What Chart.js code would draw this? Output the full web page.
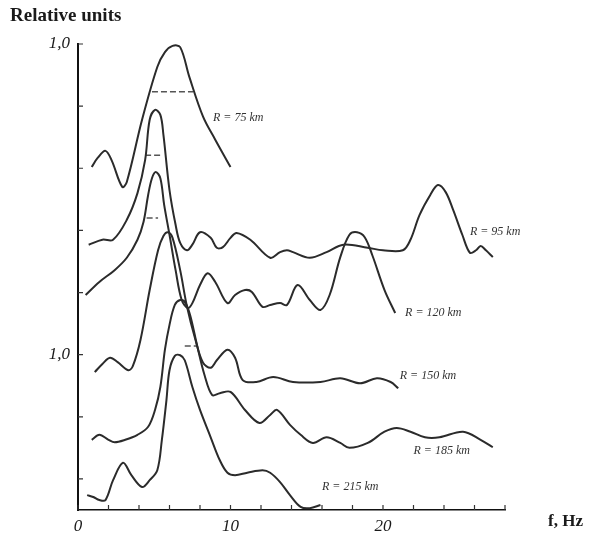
<html>
<head>
    <script src="https://cdn.jsdelivr.net/npm/chart.js@4.4.0/dist/chart.umd.min.js"></script>
    <title>Relative spectra</title>
    <style>
        body { margin: 0; background: #fff; }
        #wrap { width: 592px; height: 541px; }
    </style>
</head>
<body>
<div id="wrap"><canvas id="spectra"></canvas></div>

<script>
    // spectra: [f (Hz), offset relative amplitude]
    var r75 = [[0.9,5.52],[1.3,5.67],[1.8,5.78],[2.2,5.63],[2.9,5.2],[3.2,5.28],[4.2,6.28],[5.2,7.13],
        [5.7,7.37],[6.2,7.47],[6.7,7.45],[7.3,6.97],[8.2,6.33],[9.0,5.96],[10.0,5.52]];
    var r95 = [[0.7,4.27],[1.6,4.35],[2.3,4.35],[3.2,4.67],[3.9,5.1],[4.4,5.63],[4.7,6.28],[5.05,6.44],
        [5.4,6.36],[5.6,6.04],[6.0,5.15],[6.4,4.59],[6.7,4.3],[7.15,4.18],[7.5,4.27],[8.0,4.47],
        [8.7,4.38],[9.1,4.22],[9.5,4.23],[10.0,4.38],[10.4,4.46],[11.3,4.35],[12.6,4.06],[13.25,4.15],
        [13.7,4.18],[14.1,4.15],[15.2,4.06],[16.3,4.15],[17.4,4.27],[19.0,4.22],[20.0,4.18],[21.3,4.18],
        [21.8,4.35],[22.4,4.75],[23.1,5.07],[23.6,5.23],[24.1,5.12],[24.6,4.83],[25.2,4.43],[25.7,4.14],
        [26.1,4.18],[26.4,4.25],[26.75,4.18],[27.2,4.07]];
    var r120 = [[0.5,3.46],[1.4,3.67],[2.4,3.86],[3.2,4.06],[3.9,4.35],[4.3,4.64],[4.6,5.07],[4.85,5.34],
        [5.1,5.44],[5.4,5.34],[5.65,4.91],[6.0,4.43],[6.4,3.86],[6.8,3.38],[7.2,3.25],[7.5,3.33],
        [8.0,3.62],[8.5,3.81],[9.0,3.67],[9.8,3.33],[10.3,3.46],[10.95,3.54],[11.4,3.51],[12.1,3.27],
        [12.6,3.3],[13.25,3.33],[13.7,3.3],[14.4,3.62],[15.2,3.38],[15.9,3.22],[16.5,3.46],[17.2,4.07],
        [17.8,4.43],[18.3,4.47],[18.8,4.39],[19.3,4.1],[20.1,3.54],[20.8,3.17]];
    var r150 = [[1.1,2.22],[1.6,2.35],[2.1,2.45],[2.6,2.38],[3.3,2.25],[3.6,2.32],[4.1,2.74],[4.7,3.54],
        [5.25,4.18],[5.6,4.41],[5.9,4.47],[6.2,4.38],[6.7,3.86],[7.15,3.27],[7.7,2.74],[8.2,2.37],
        [8.7,2.29],[9.1,2.41],[9.8,2.58],[10.3,2.45],[10.8,2.09],[11.7,2.06],[12.8,2.14],[14.1,2.06],
        [15.9,2.06],[17.2,2.12],[18.5,2.04],[19.6,2.12],[20.5,2.06],[21.0,1.96]];
    var r185 = [[0.9,1.13],[1.4,1.21],[2.0,1.13],[2.4,1.09],[3.1,1.13],[3.9,1.21],[4.6,1.34],[5.05,1.61],
        [5.4,1.98],[5.7,2.58],[6.0,2.98],[6.35,3.3],[6.7,3.38],[7.0,3.35],[7.35,3.14],[7.8,2.66],
        [8.3,2.17],[8.8,1.85],[9.3,1.88],[10.0,1.9],[10.95,1.61],[11.9,1.4],[12.6,1.53],[13.05,1.61],
        [13.9,1.37],[14.6,1.21],[15.4,1.08],[16.3,1.17],[17.2,1.08],[17.8,1.0],[19.0,1.08],[20.1,1.26],
        [20.9,1.32],[21.8,1.26],[22.75,1.17],[23.7,1.17],[25.25,1.26],[26.4,1.13],[27.2,1.01]];
    var r215 = [[0.6,0.24],[1.0,0.21],[1.4,0.16],[1.8,0.16],[2.3,0.48],[2.95,0.76],[3.5,0.56],[4.2,0.37],
        [4.7,0.48],[5.2,0.64],[5.5,1.13],[5.8,1.77],[6.0,2.25],[6.35,2.48],[6.7,2.49],[7.0,2.41],
        [7.5,1.98],[8.0,1.61],[8.7,1.17],[9.3,0.8],[9.8,0.6],[10.3,0.56],[11.1,0.6],[12.1,0.64],
        [12.6,0.6],[13.25,0.45],[13.9,0.24],[14.6,0.05],[15.2,0.03],[15.9,0.08]];

    // dashed half-level markers
    var mark75 = [[4.85,6.73],[7.55,6.73]];
    var mark95 = [[4.4,5.71],[5.4,5.71]];
    var mark120 = [[4.5,4.7],[5.25,4.7]];
    var mark150 = [[7.0,2.64],[7.8,2.64]];

    var curveLabels = ['R = 75 km', 'R = 95 km', 'R = 120 km', 'R = 150 km', 'R = 185 km', 'R = 215 km'];
    var labelAt = [[8.85,6.31],[25.7,4.47],[21.45,3.17],[21.1,2.16],[22.0,0.95],[16.0,0.37]];

    var yTickValues = [0.5, 1.5, 2.5, 3.5, 4.5, 5.5, 6.5, 7.5];
    var yTickLabels = {2.5: '1,0', 7.5: '1,0'};
    var xTickLabels = {0: '0', 10: '10', 20: '20'};

    var ink = '#2b2b2b';

    function curve(points) {
        return {
            data: points.map(p => ({x: p[0], y: p[1]})),
            borderColor: ink,
            borderWidth: 2,
            pointRadius: 0,
            tension: 0.35,
            fill: false
        };
    }

    function marker(points) {
        return {
            data: points.map(p => ({x: p[0], y: p[1]})),
            borderColor: '#555',
            borderWidth: 1.5,
            borderDash: [6, 3],
            pointRadius: 0,
            fill: false
        };
    }

    var textPlugin = {
        id: 'texts',
        afterDraw(chart) {
            var ctx = chart.ctx;
            var xs = chart.scales.x, ys = chart.scales.y;
            ctx.save();
            // inward tick marks, like the printed axes
            ctx.strokeStyle = '#333';
            ctx.lineWidth = 1.2;
            ctx.beginPath();
            ys.ticks.forEach(t => {
                var py = ys.getPixelForValue(t.value);
                ctx.moveTo(xs.left, py);
                ctx.lineTo(xs.left + 5, py);
            });
            xs.ticks.forEach(t => {
                var px = xs.getPixelForValue(t.value);
                ctx.moveTo(px, ys.bottom);
                ctx.lineTo(px, ys.bottom - 5);
            });
            ctx.stroke();

            ctx.fillStyle = '#1a1a1a';
            ctx.textBaseline = 'middle';
            ctx.textAlign = 'left';
            ctx.font = 'bold 19px "Liberation Serif"';
            ctx.fillText('Relative units', 10, 16);
            ctx.font = 'bold 17px "Liberation Serif"';
            ctx.fillText('f, Hz', 548, 522);
            ctx.font = 'italic 12px "Liberation Serif"';
            ctx.fillStyle = '#333';
            curveLabels.forEach((t, i) => {
                ctx.fillText(t, xs.getPixelForValue(labelAt[i][0]), ys.getPixelForValue(labelAt[i][1]));
            });
            ctx.restore();
        }
    };

    new Chart(document.getElementById('spectra'), {
        type: 'line',
        data: {
            datasets: [curve(r75), curve(r95), curve(r120), curve(r150), curve(r185), curve(r215),
                marker(mark75), marker(mark95), marker(mark120), marker(mark150)]
        },
        options: {
            responsive: true,
            maintainAspectRatio: false,
            animation: false,
            layout: { padding: { left: 0, right: 87, top: 44, bottom: 0 } },
            plugins: {
                legend: { display: false },
                tooltip: { enabled: false }
            },
            scales: {
                x: {
                    type: 'linear',
                    min: 0,
                    max: 28,
                    border: { color: '#111', width: 1.5 },
                    grid: { drawOnChartArea: false, drawTicks: false },
                    afterFit: s => { s.height = 31; },
                    ticks: {
                        stepSize: 2,
                        autoSkip: false,
                        maxRotation: 0,
                        padding: 6,
                        color: '#1a1a1a',
                        font: { family: 'Liberation Serif', style: 'italic', size: 17 },
                        callback: v => xTickLabels[v] !== undefined ? xTickLabels[v] : ''
                    }
                },
                y: {
                    min: 0,
                    max: 7.5,
                    border: { color: '#111', width: 2 },
                    grid: { drawOnChartArea: false, drawTicks: false },
                    afterFit: s => { s.width = 78; },
                    afterBuildTicks: s => { s.ticks = yTickValues.map(v => ({value: v})); },
                    ticks: {
                        autoSkip: false,
                        padding: 8,
                        color: '#1a1a1a',
                        font: { family: 'Liberation Serif', style: 'italic', size: 17 },
                        callback: v => yTickLabels[v] || ''
                    }
                }
            }
        },
        plugins: [textPlugin]
    });
</script>
</body>
</html>
